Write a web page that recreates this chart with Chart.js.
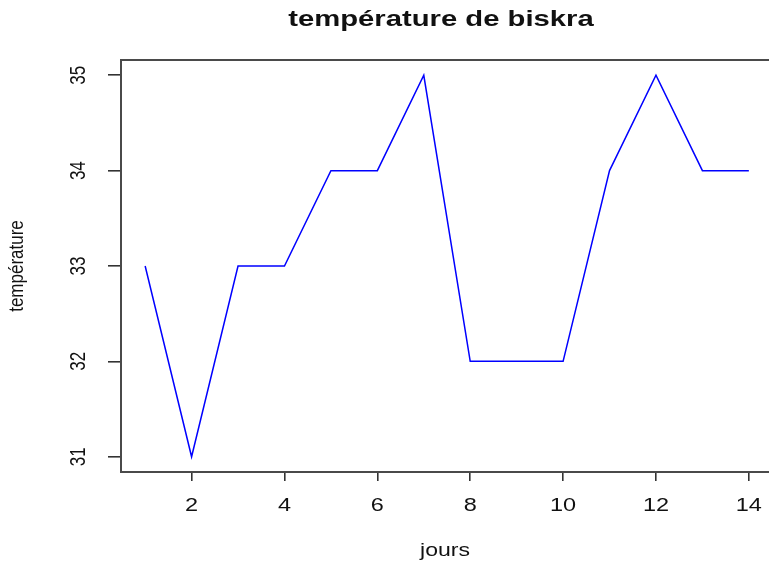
<!DOCTYPE html>
<html>
<head>
<meta charset="utf-8">
<script src="https://cdn.jsdelivr.net/npm/chart.js@4/dist/chart.umd.min.js"></script>
<style>
  html, body { margin: 0; padding: 0; background: #fff; overflow: hidden; width: 769px; height: 563px; }
  #wrap { width: 800px; height: 563px; }
</style>
</head>
<body>
<div id="wrap"><canvas id="c" width="800" height="563"></canvas></div>
<script>
// Daily temperatures in Biskra
const jours = [1, 2, 3, 4, 5, 6, 7, 8, 9, 10, 11, 12, 13, 14];
const temperatures = [33, 31, 33, 33, 34, 34, 35, 32, 32, 32, 34, 35, 34, 34];
const xTickValues = [2, 4, 6, 8, 10, 12, 14];
const yTickValues = [31, 32, 33, 34, 35];
const titleText = 'température de biskra';
const xTitle = 'jours';
const yTitle = 'température';

// R-style 4% padding around the data range
const xPad = (Math.max(...jours) - Math.min(...jours)) * 0.04;
const yPad = (Math.max(...temperatures) - Math.min(...temperatures)) * 0.04;

const FONT = '"Liberation Sans", Arial, sans-serif';
const INK = '#111';
const FRAME = '#4a4a4a';

// horizontal text, widened by sx
function hText(ctx, txt, x, y, font, sx) {
  ctx.save();
  ctx.translate(x, y);
  ctx.scale(sx, 1);
  ctx.font = font;
  ctx.fillStyle = INK;
  ctx.textAlign = 'center';
  ctx.textBaseline = 'alphabetic';
  ctx.fillText(txt, 0, 0);
  ctx.restore();
}
// text reading bottom-to-top, glyph height widened by sx
function vText(ctx, txt, x, y, font, sx) {
  ctx.save();
  ctx.translate(x, y);
  ctx.scale(sx, 1);
  ctx.rotate(-Math.PI / 2);
  ctx.font = font;
  ctx.fillStyle = INK;
  ctx.textAlign = 'center';
  ctx.textBaseline = 'alphabetic';
  ctx.fillText(txt, 0, 0);
  ctx.restore();
}

const decor = {
  id: 'decor',
  afterDraw(chart) {
    const { ctx, chartArea: a, scales: { x, y } } = chart;
    // frame top edge; left and bottom come from the axis borders
    ctx.save();
    ctx.strokeStyle = FRAME;
    ctx.lineWidth = 2;
    ctx.beginPath();
    ctx.moveTo(a.left, a.top);
    ctx.lineTo(a.right, a.top);
    ctx.stroke();
    ctx.restore();

    hText(ctx, titleText, 441, 26, 'bold 21.5px ' + FONT, 1.36);
    xTickValues.forEach(v => hText(ctx, String(v), x.getPixelForValue(v), 511, '18.5px ' + FONT, 1.27));
    yTickValues.forEach(v => vText(ctx, String(v), 85, y.getPixelForValue(v), '17px ' + FONT, 1.25));
    hText(ctx, xTitle, 445, 556, '18px ' + FONT, 1.28);
    vText(ctx, yTitle, 23, 266, '17px ' + FONT, 1.2);
  }
};

new Chart(document.getElementById('c'), {
  type: 'line',
  data: {
    datasets: [{
      data: jours.map((d, i) => ({ x: d, y: temperatures[i] })),
      borderColor: '#0000ff',
      borderWidth: 1.5,
      pointRadius: 0,
      tension: 0,
      fill: false
    }]
  },
  options: {
    responsive: false,
    animation: false,
    devicePixelRatio: 1,
    layout: { padding: { top: 60, right: 27, left: 0, bottom: 0 } },
    plugins: { legend: { display: false }, title: { display: false }, tooltip: { enabled: false } },
    scales: {
      x: {
        type: 'linear',
        min: Math.min(...jours) - xPad,
        max: Math.max(...jours) + xPad,
        afterBuildTicks: s => { s.ticks = xTickValues.map(v => ({ value: v })); },
        afterFit: s => { s.height = 91; },
        ticks: { display: false },
        grid: { drawOnChartArea: false, drawTicks: true, tickLength: 9, color: '#333', lineWidth: 1.6 },
        border: { display: true, color: FRAME, width: 2 }
      },
      y: {
        type: 'linear',
        min: Math.min(...temperatures) - yPad,
        max: Math.max(...temperatures) + yPad,
        afterBuildTicks: s => { s.ticks = yTickValues.map(v => ({ value: v })); },
        afterFit: s => { s.width = 121; },
        ticks: { display: false },
        grid: { drawOnChartArea: false, drawTicks: true, tickLength: 13, color: '#333', lineWidth: 1.6 },
        border: { display: true, color: FRAME, width: 2 }
      }
    }
  },
  plugins: [decor]
});
</script>
</body>
</html>
